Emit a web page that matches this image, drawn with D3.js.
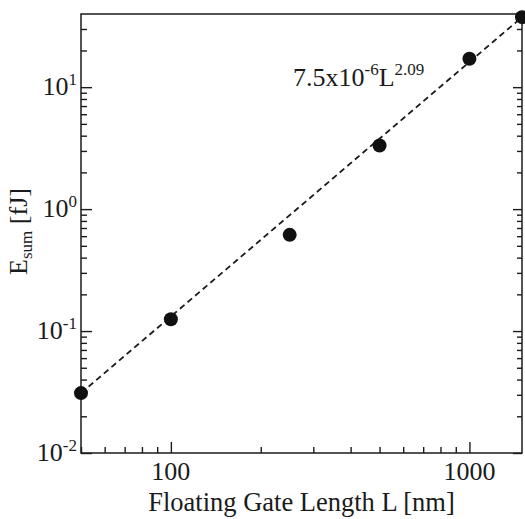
<!DOCTYPE html>
<html>
<head>
<meta charset="utf-8">
<script src="https://cdn.jsdelivr.net/npm/d3@7"></script>
<style>
  html, body { margin: 0; padding: 0; background: #fff; }
  svg { display: block; font-family: "Liberation Serif", "Times New Roman", serif; }
</style>
</head>
<body>
<svg id="chart" width="525" height="519"></svg>
<script>
// Gate length (nm) and summed switching energy (fJ)
const gateLength = [50, 100, 250, 500, 1000, 1500];
const energySum = [0.031, 0.125, 0.615, 3.32, 17.1, 37.5];

// Power-law fit, drawn as a dashed segment between its end points
const fitLength = [50, 1500];
const fitEnergy = [0.031, 37.5];

// Axis ticks
const xMajor = [100, 1000];
const xMajorLabels = ["100", "1000"];
const yMajor = [0.01, 0.1, 1, 10];
const yMajorExp = ["-2", "-1", "0", "1"];

const svg = d3.select("#chart");
const ink = "#1b1b1b";
const margin = {left: 81, top: 14, right: 3, bottom: 66};
const W = 525, H = 519;
const x0 = margin.left, x1 = W - margin.right;
const y0 = H - margin.bottom, y1 = margin.top;

const x = d3.scaleLog().domain([50, 1500]).range([x0, x1]);
const y = d3.scaleLog().domain([0.01, Math.pow(10, 1.6)]).range([y0, y1]);

// minor tick values: every 1..9 multiple inside the domain, skipping decades
const minorOf = (scale) => scale.ticks(10).filter(v => {
  const e = Math.log10(v);
  return Math.abs(e - Math.round(e)) > 1e-9;
});
const xMinor = minorOf(x);
const yMinor = minorOf(y);

function axisGroup(axis, tx, ty) {
  const g = svg.append("g").attr("transform", `translate(${tx},${ty})`).call(axis);
  g.select(".domain").remove();
  g.selectAll("text").remove();
  g.selectAll("line").attr("stroke", ink).attr("stroke-width", 1.4);
  return g;
}

// bottom ticks (inward)
axisGroup(d3.axisBottom(x).tickValues(xMajor).tickSizeInner(-11).tickSizeOuter(0), 0, y0);
axisGroup(d3.axisBottom(x).tickValues(xMinor).tickSizeInner(-6).tickSizeOuter(0), 0, y0);
// left ticks (inward)
axisGroup(d3.axisLeft(y).tickValues(yMajor).tickSizeInner(-11).tickSizeOuter(0), x0, 0);
axisGroup(d3.axisLeft(y).tickValues(yMinor).tickSizeInner(-6).tickSizeOuter(0), x0, 0);
// right ticks (inward)
axisGroup(d3.axisRight(y).tickValues(yMajor).tickSizeInner(-9).tickSizeOuter(0), x1, 0);
axisGroup(d3.axisRight(y).tickValues(yMinor).tickSizeInner(-5).tickSizeOuter(0), x1, 0);

// frame
svg.append("rect")
  .attr("x", x0).attr("y", y1)
  .attr("width", x1 - x0).attr("height", y0 - y1)
  .attr("fill", "none").attr("stroke", ink).attr("stroke-width", 1.5);

// x tick labels
svg.append("g").selectAll("text")
  .data(xMajor)
  .join("text")
  .attr("x", d => x(d))
  .attr("y", y0 + 27)
  .attr("text-anchor", "middle")
  .attr("font-size", 26)
  .attr("fill", ink)
  .text((d, i) => xMajorLabels[i]);

// y tick labels as 10 with superscript exponent
const yl = svg.append("g").selectAll("text")
  .data(yMajor)
  .join("text")
  .attr("x", x0 - 4)
  .attr("y", d => y(d) + 8)
  .attr("text-anchor", "end")
  .attr("font-size", 26)
  .attr("fill", ink);
yl.append("tspan").text("10");
yl.append("tspan")
  .attr("font-size", 17)
  .attr("dy", -10)
  .text((d, i) => yMajorExp[i]);

// axis titles
svg.append("text")
  .attr("x", (x0 + x1) / 2)
  .attr("y", 511)
  .attr("text-anchor", "middle")
  .attr("font-size", 26.5)
  .attr("fill", ink)
  .text("Floating Gate Length L [nm]");

const yt = svg.append("text")
  .attr("transform", `translate(27,${(y0 + y1) / 2 - 2}) rotate(-90)`)
  .attr("text-anchor", "middle")
  .attr("font-size", 26)
  .attr("fill", ink);
yt.append("tspan").text("E");
yt.append("tspan").attr("font-size", 17).attr("dy", 5).text("sum");
yt.append("tspan").attr("dy", -5).text(" [fJ]");

// fit line
const fitPts = fitLength.map((d, i) => [d, fitEnergy[i]]);
svg.append("path")
  .datum(fitPts)
  .attr("d", d3.line().x(d => x(d[0])).y(d => y(d[1])))
  .attr("fill", "none")
  .attr("stroke", ink)
  .attr("stroke-width", 1.8)
  .attr("stroke-dasharray", "6,4");

// data points
svg.append("g").selectAll("circle")
  .data(gateLength.map((d, i) => [d, energySum[i]]))
  .join("circle")
  .attr("cx", d => x(d[0]))
  .attr("cy", d => y(d[1]))
  .attr("r", 7)
  .attr("fill", "#111");

// fit formula
const ann = svg.append("text")
  .attr("x", 293)
  .attr("y", 86)
  .attr("font-size", 26)
  .attr("fill", ink);
ann.append("tspan").text("7.5x10");
ann.append("tspan").attr("font-size", 17).attr("dy", -11).text("-6");
ann.append("tspan").attr("dy", 11).text("L");
ann.append("tspan").attr("font-size", 17).attr("dy", -11).text("2.09");
</script>
</body>
</html>
